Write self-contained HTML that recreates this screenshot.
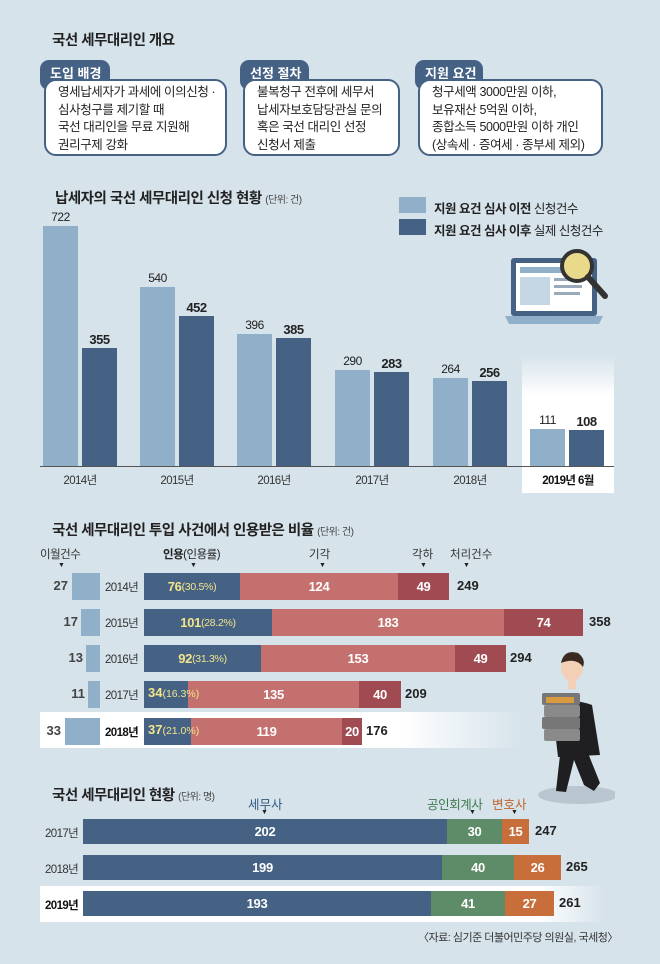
<!DOCTYPE html>
<html><head><meta charset="utf-8"><style>
*{margin:0;padding:0;box-sizing:border-box}
body{width:660px;height:964px;background:#d6e3eb;position:relative;overflow:hidden;font-family:"Liberation Sans","Noto Sans CJK KR",sans-serif;color:#222}
.a{position:absolute;white-space:nowrap}
.t{font-weight:bold;font-size:14.5px;letter-spacing:-0.5px}
.u{font-size:10px;font-weight:normal;color:#444}
.tab{position:absolute;background:#456285;color:#fff;font-weight:bold;font-size:13px;height:30px;border-radius:9px;padding:3px 0 0 10px}
.box{position:absolute;background:#fff;border:2px solid #456285;border-radius:12px;font-size:12.5px;line-height:17.5px;padding:3px 0 0 12px;letter-spacing:-0.4px}
.b{position:absolute}
.n{position:absolute;font-size:12px;text-align:center;letter-spacing:-0.5px}
.w{color:#fff;font-weight:bold;font-size:13px;display:flex;align-items:center;justify-content:center;letter-spacing:-0.3px}
.y{font-size:11.5px;letter-spacing:-0.6px;color:#333}
</style></head><body>

<div class="a t" style="left:52px;top:29px">국선 세무대리인 개요</div>
<div class="tab" style="left:40px;top:60px;width:70px">도입 배경</div>
<div class="box" style="left:44px;top:79px;width:183px;height:77px">영세납세자가 과세에 이의신청 ·<br>심사청구를 제기할 때<br>국선 대리인을 무료 지원해<br>권리구제 강화</div>
<div class="tab" style="left:240px;top:60px;width:69px">선정 절차</div>
<div class="box" style="left:243px;top:79px;width:157px;height:77px">불복청구 전후에 세무서<br>납세자보호담당관실 문의<br>혹은 국선 대리인 선정<br>신청서 제출</div>
<div class="tab" style="left:415px;top:60px;width:68px">지원 요건</div>
<div class="box" style="left:418px;top:79px;width:185px;height:77px">청구세액 3000만원 이하,<br>보유재산 5억원 이하,<br>종합소득 5000만원 이하 개인<br>(상속세 · 증여세 · 종부세 제외)</div>

<div class="a t" style="left:55px;top:187px">납세자의 국선 세무대리인 신청 현황 <span class="u">(단위: 건)</span></div>
<div class="b" style="left:399px;top:197px;width:27px;height:16px;background:#8fb0c8"></div>
<div class="b" style="left:399px;top:219px;width:27px;height:16px;background:#456285"></div>
<div class="a" style="left:434px;top:198px;font-size:12.5px;letter-spacing:-0.5px"><b>지원 요건 심사 이전</b> 신청건수</div>
<div class="a" style="left:434px;top:220px;font-size:12.5px;letter-spacing:-0.5px"><b>지원 요건 심사 이후</b> 실제 신청건수</div>

<!-- laptop -->
<svg class="b" style="left:505px;top:242px" width="110" height="95" viewBox="0 0 110 95">
<rect x="6" y="16" width="86" height="58" rx="3" fill="#456285"/>
<rect x="11" y="21" width="76" height="48" fill="#fff"/>
<rect x="15" y="25" width="68" height="6" fill="#8fb0c8"/>
<rect x="15" y="35" width="30" height="28" fill="#c4d6e3"/>
<rect x="49" y="36" width="30" height="3" fill="#9ab"/><rect x="49" y="43" width="28" height="3" fill="#9ab"/><rect x="49" y="50" width="26" height="3" fill="#9ab"/>
<path d="M0 74 H98 L94 82 H4 Z" fill="#8fb0c8"/>
<circle cx="72" cy="24" r="15" fill="#e9d98a" stroke="#333" stroke-width="4"/>
<line x1="83" y1="35" x2="100" y2="54" stroke="#333" stroke-width="6" stroke-linecap="round"/>
</svg>

<!-- 2019 band -->
<div class="b" style="left:522px;top:355px;width:92px;height:138px;background:linear-gradient(#d6e3eb,#fff 30%)"></div>
<div class="b" style="left:40px;top:466px;width:574px;height:1px;background:#555"></div>

<div class="b" style="left:43px;top:226px;width:35px;height:240px;background:#8fb0c8"></div>
<div class="b" style="left:82px;top:348px;width:35px;height:118px;background:#456285"></div>
<div class="b" style="left:140px;top:287px;width:35px;height:179px;background:#8fb0c8"></div>
<div class="b" style="left:179px;top:316px;width:35px;height:150px;background:#456285"></div>
<div class="b" style="left:237px;top:334px;width:35px;height:132px;background:#8fb0c8"></div>
<div class="b" style="left:276px;top:338px;width:35px;height:128px;background:#456285"></div>
<div class="b" style="left:335px;top:370px;width:35px;height:96px;background:#8fb0c8"></div>
<div class="b" style="left:374px;top:372px;width:35px;height:94px;background:#456285"></div>
<div class="b" style="left:433px;top:378px;width:35px;height:88px;background:#8fb0c8"></div>
<div class="b" style="left:472px;top:381px;width:35px;height:85px;background:#456285"></div>
<div class="b" style="left:530px;top:429px;width:35px;height:37px;background:#8fb0c8"></div>
<div class="b" style="left:569px;top:430px;width:35px;height:36px;background:#456285"></div>

<div class="n" style="left:43px;top:210px;width:35px">722</div>
<div class="n" style="left:82px;top:332px;width:35px;font-weight:bold;font-size:13px">355</div>
<div class="n" style="left:140px;top:271px;width:35px">540</div>
<div class="n" style="left:179px;top:300px;width:35px;font-weight:bold;font-size:13px">452</div>
<div class="n" style="left:237px;top:318px;width:35px">396</div>
<div class="n" style="left:276px;top:322px;width:35px;font-weight:bold;font-size:13px">385</div>
<div class="n" style="left:335px;top:354px;width:35px">290</div>
<div class="n" style="left:374px;top:356px;width:35px;font-weight:bold;font-size:13px">283</div>
<div class="n" style="left:433px;top:362px;width:35px">264</div>
<div class="n" style="left:472px;top:365px;width:35px;font-weight:bold;font-size:13px">256</div>
<div class="n" style="left:530px;top:413px;width:35px">111</div>
<div class="n" style="left:569px;top:414px;width:35px;font-weight:bold;font-size:13px">108</div>

<div class="n y" style="left:50px;top:472px;width:60px">2014년</div>
<div class="n y" style="left:147px;top:472px;width:60px">2015년</div>
<div class="n y" style="left:244px;top:472px;width:60px">2016년</div>
<div class="n y" style="left:342px;top:472px;width:60px">2017년</div>
<div class="n y" style="left:440px;top:472px;width:60px">2018년</div>
<div class="n y" style="left:530px;top:472px;width:76px;font-weight:bold;color:#111">2019년 6월</div>

<!-- section 2 -->
<div class="a t" style="left:52px;top:519px">국선 세무대리인 투입 사건에서 인용받은 비율 <span class="u">(단위: 건)</span></div>
<div class="a" style="left:40px;top:546px;font-size:11.5px;color:#333;letter-spacing:-0.5px">이월건수</div>
<div class="a" style="left:163px;top:546px;font-size:11.5px;letter-spacing:-0.5px"><b>인용</b>(인용률)</div>
<div class="a" style="left:309px;top:546px;font-size:11.5px;color:#333">기각</div>
<div class="a" style="left:412px;top:546px;font-size:11.5px;color:#333">각하</div>
<div class="a" style="left:450px;top:546px;font-size:11.5px;color:#333">처리건수</div>
<div class="a" style="left:58px;top:562px;font-size:7px">▼</div>
<div class="a" style="left:190px;top:562px;font-size:7px">▼</div>
<div class="a" style="left:319px;top:562px;font-size:7px">▼</div>
<div class="a" style="left:420px;top:562px;font-size:7px">▼</div>
<div class="a" style="left:463px;top:562px;font-size:7px">▼</div>

<div class="b" style="left:40px;top:712px;width:482px;height:36px;background:linear-gradient(90deg,#fff 75%,#d6e3eb)"></div>

<!-- rows -->
<div class="b" style="left:72px;top:573px;width:28px;height:27px;background:#8fb0c8"></div>
<div class="b" style="left:81px;top:609px;width:19px;height:27px;background:#8fb0c8"></div>
<div class="b" style="left:86px;top:645px;width:14px;height:27px;background:#8fb0c8"></div>
<div class="b" style="left:88px;top:681px;width:12px;height:27px;background:#8fb0c8"></div>
<div class="b" style="left:65px;top:718px;width:35px;height:27px;background:#8fb0c8"></div>
<div class="a" style="left:40px;top:578px;width:28px;text-align:right;font-size:13px;font-weight:bold;color:#444">27</div>
<div class="a" style="left:50px;top:614px;width:28px;text-align:right;font-size:13px;font-weight:bold;color:#444">17</div>
<div class="a" style="left:55px;top:650px;width:28px;text-align:right;font-size:13px;font-weight:bold;color:#444">13</div>
<div class="a" style="left:57px;top:686px;width:28px;text-align:right;font-size:13px;font-weight:bold;color:#444">11</div>
<div class="a" style="left:33px;top:723px;width:28px;text-align:right;font-size:13px;font-weight:bold;color:#444">33</div>
<div class="a y" style="left:105px;top:579px">2014년</div>
<div class="a y" style="left:105px;top:615px">2015년</div>
<div class="a y" style="left:105px;top:651px">2016년</div>
<div class="a y" style="left:105px;top:687px">2017년</div>
<div class="a y" style="left:105px;top:724px;font-weight:bold;color:#111">2018년</div>

<div class="b w" style="left:144px;top:573px;width:96px;height:27px;background:#456285"><span style="color:#f3e58a">76</span><span style="font-size:10.5px;font-weight:normal;color:#f3e58a">(30.5%)</span></div>
<div class="b w" style="left:240px;top:573px;width:158px;height:27px;background:#c4706e">124</div>
<div class="b w" style="left:398px;top:573px;width:51px;height:27px;background:#a04a52">49</div>
<div class="a" style="left:457px;top:578px;font-weight:bold;font-size:13px">249</div>

<div class="b w" style="left:144px;top:609px;width:128px;height:27px;background:#456285"><span style="color:#f3e58a">101</span><span style="font-size:10.5px;font-weight:normal;color:#f3e58a">(28.2%)</span></div>
<div class="b w" style="left:272px;top:609px;width:232px;height:27px;background:#c4706e">183</div>
<div class="b w" style="left:504px;top:609px;width:79px;height:27px;background:#a04a52">74</div>
<div class="a" style="left:589px;top:614px;font-weight:bold;font-size:13px">358</div>

<div class="b w" style="left:144px;top:645px;width:117px;height:27px;background:#456285"><span style="color:#f3e58a">92</span><span style="font-size:10.5px;font-weight:normal;color:#f3e58a">(31.3%)</span></div>
<div class="b w" style="left:261px;top:645px;width:194px;height:27px;background:#c4706e">153</div>
<div class="b w" style="left:455px;top:645px;width:51px;height:27px;background:#a04a52">49</div>
<div class="a" style="left:510px;top:650px;font-weight:bold;font-size:13px">294</div>

<div class="b" style="left:144px;top:681px;width:44px;height:27px;background:#456285"></div>
<div class="b w" style="left:188px;top:681px;width:171px;height:27px;background:#c4706e">135</div>
<div class="b w" style="left:359px;top:681px;width:42px;height:27px;background:#a04a52">40</div>
<div class="a" style="left:148px;top:685px;font-weight:bold;font-size:13px;color:#f3e58a">34<span style="font-size:10.5px;font-weight:normal">(16.3%)</span></div>
<div class="a" style="left:405px;top:686px;font-weight:bold;font-size:13px">209</div>

<div class="b" style="left:144px;top:718px;width:47px;height:27px;background:#456285"></div>
<div class="b w" style="left:191px;top:718px;width:151px;height:27px;background:#c4706e">119</div>
<div class="b w" style="left:342px;top:718px;width:20px;height:27px;background:#a04a52">20</div>
<div class="a" style="left:148px;top:722px;font-weight:bold;font-size:13px;color:#f3e58a">37<span style="font-size:10.5px;font-weight:normal">(21.0%)</span></div>
<div class="a" style="left:366px;top:723px;font-weight:bold;font-size:13px">176</div>

<!-- person -->
<svg class="b" style="left:530px;top:645px" width="85" height="165" viewBox="0 0 85 165">
<ellipse cx="48" cy="150" rx="40" ry="9" fill="#b9c6cf"/>
<path d="M22 60 Q40 52 62 60 L70 110 L28 112 Z" fill="#1f1f22"/>
<path d="M30 110 L26 146 L36 147 L44 115 L54 140 L64 146 L70 138 L58 108 Z" fill="#1f1f22"/>
<ellipse cx="42" cy="22" rx="11" ry="14" fill="#f2cfb5"/>
<path d="M31 18 Q34 4 48 8 Q56 14 53 22 Q46 12 31 18Z" fill="#3a2a22"/>
<rect x="38" y="34" width="8" height="10" fill="#f2cfb5"/>
<rect x="12" y="48" width="38" height="12" rx="2" fill="#777"/>
<rect x="14" y="60" width="36" height="12" rx="2" fill="#8a8a8a"/>
<rect x="12" y="72" width="38" height="12" rx="2" fill="#777"/>
<rect x="14" y="84" width="36" height="12" rx="2" fill="#8a8a8a"/>
<rect x="16" y="52" width="28" height="6" fill="#d99a3f"/>
</svg>

<!-- section 3 -->
<div class="a t" style="left:52px;top:784px">국선 세무대리인 현황 <span class="u">(단위: 명)</span></div>
<div class="a" style="left:248px;top:794px;font-size:12.5px;color:#2f5a85">세무사</div>
<div class="a" style="left:427px;top:794px;font-size:12.5px;color:#3f7a4e;letter-spacing:-0.4px">공인회계사</div>
<div class="a" style="left:492px;top:794px;font-size:12.5px;color:#c0642c">변호사</div>
<div class="a" style="left:261px;top:809px;font-size:7px">▼</div>
<div class="a" style="left:469px;top:809px;font-size:7px">▼</div>
<div class="a" style="left:511px;top:809px;font-size:7px">▼</div>

<div class="b" style="left:40px;top:886px;width:565px;height:36px;background:linear-gradient(90deg,#fff 88%,#d6e3eb)"></div>

<div class="a y" style="left:45px;top:825px">2017년</div>
<div class="a y" style="left:45px;top:861px">2018년</div>
<div class="a y" style="left:45px;top:897px;font-weight:bold;color:#111">2019년</div>

<div class="b w" style="left:83px;top:819px;width:364px;height:25px;background:#456285">202</div>
<div class="b w" style="left:447px;top:819px;width:55px;height:25px;background:#5e8c68">30</div>
<div class="b w" style="left:502px;top:819px;width:27px;height:25px;background:#c86e3a">15</div>
<div class="a" style="left:535px;top:823px;font-weight:bold;font-size:13px">247</div>

<div class="b w" style="left:83px;top:855px;width:359px;height:25px;background:#456285">199</div>
<div class="b w" style="left:442px;top:855px;width:72px;height:25px;background:#5e8c68">40</div>
<div class="b w" style="left:514px;top:855px;width:47px;height:25px;background:#c86e3a">26</div>
<div class="a" style="left:566px;top:859px;font-weight:bold;font-size:13px">265</div>

<div class="b w" style="left:83px;top:891px;width:348px;height:25px;background:#456285">193</div>
<div class="b w" style="left:431px;top:891px;width:74px;height:25px;background:#5e8c68">41</div>
<div class="b w" style="left:505px;top:891px;width:49px;height:25px;background:#c86e3a">27</div>
<div class="a" style="left:559px;top:895px;font-weight:bold;font-size:13px">261</div>

<div class="a" style="left:418px;top:929px;width:194px;text-align:right;font-size:11px;color:#333;letter-spacing:-0.5px">〈자료: 심기준 더불어민주당 의원실, 국세청〉</div>
</body></html>
